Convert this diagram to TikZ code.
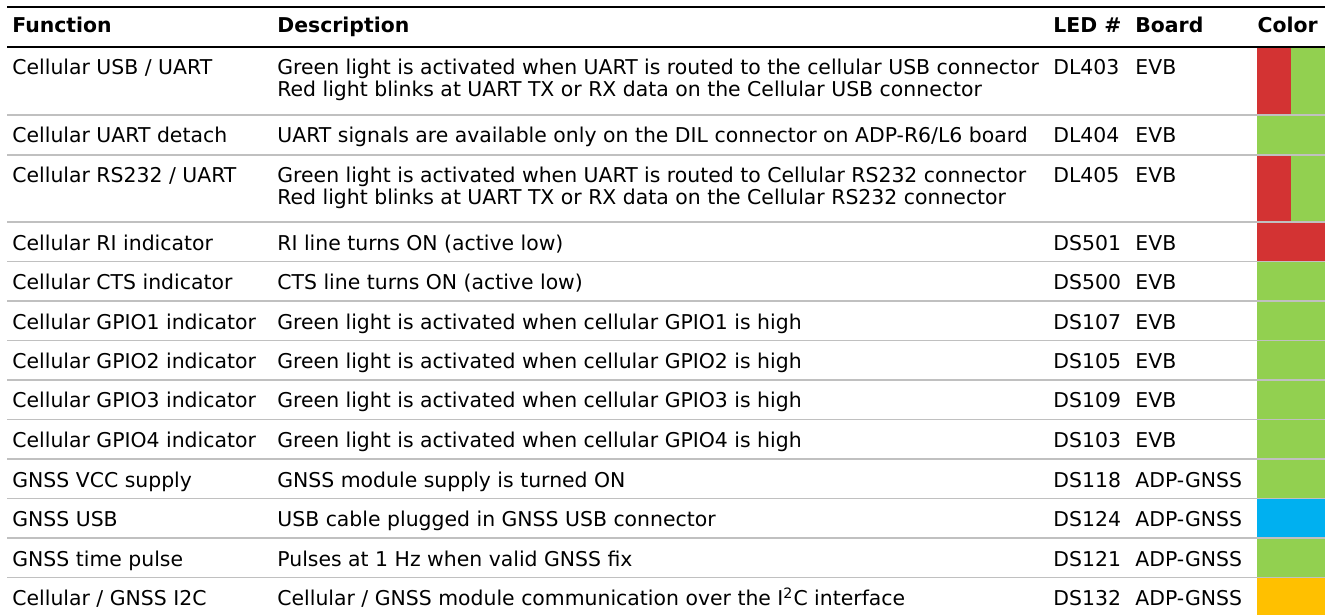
\documentclass[tikz,border=0pt]{standalone}
\usepackage{fontspec}
\setmainfont{DejaVu Sans}
\definecolor{ledred}{RGB}{211,51,51}
\definecolor{ledgreen}{RGB}{146,208,80}
\definecolor{ledblue}{RGB}{0,176,240}
\definecolor{ledamber}{RGB}{255,192,0}
\definecolor{rulegray}{RGB}{192,192,192}
\tikzset{
  cell/.style={anchor=base west,inner sep=0pt,font=\fontsize{10.2}{12}\selectfont},
  head/.style={cell,font=\fontsize{10.2}{12}\selectfont\bfseries},
  blackrule/.style={line width=1pt},
  rowrule/.style={rulegray,line width=0.8pt},
}
\begin{document}
\begin{tikzpicture}[x=0.5pt,y=-0.5pt]
\useasboundingbox (0,0) rectangle (1330,615);

% colour column
\fill[ledred]   (1257,47) rectangle (1291,115);
\fill[ledgreen] (1291,47) rectangle (1325,115);
\fill[ledgreen] (1257,115) rectangle (1325,155);
\fill[ledred]   (1257,155) rectangle (1291,222);
\fill[ledgreen] (1291,155) rectangle (1325,222);
\fill[ledred]   (1257,222) rectangle (1325,261.5);
\fill[ledgreen] (1257,261.5) rectangle (1325,498.5);
\fill[ledblue]  (1257,498.5) rectangle (1325,538);
\fill[ledgreen] (1257,538) rectangle (1325,577.5);
\fill[ledamber] (1257,577.5) rectangle (1325,615);

% rules
\draw[blackrule] (7,7) -- (1325,7);
\draw[blackrule] (7,47) -- (1325,47);
\foreach \y in {115,155,222,261.5,301,340.5,380,419.5,459,498.5,538,577.5}
  \draw[rowrule] (7,\y) -- (1325,\y);

% header
\node[head] (h-fn) at (12,33) {Function};
\node[head] (h-desc) at (277,33) {Description};
\node[head] (h-led) at (1053,33) {LED \#};
\node[head] (h-brd) at (1135,33) {Board};
\node[head,anchor=base east] (h-col) at (1318,33) {Color};

% rows
\node[cell] (fn-1) at (12,75) {Cellular USB / UART};
\node[cell] (desc-1) at (277,75) {Green light is activated when UART is routed to the cellular USB connector};
\node[cell] (desc-1b) at (277,97) {Red light blinks at UART TX or RX data on the Cellular USB connector};
\node[cell] (led-1) at (1053,75) {DL403};
\node[cell] (brd-1) at (1135,75) {EVB};

\node[cell] (fn-2) at (12,143) {Cellular UART detach};
\node[cell] (desc-2) at (277,143) {UART signals are available only on the DIL connector on ADP-R6/L6 board};
\node[cell] (led-2) at (1053,143) {DL404};
\node[cell] (brd-2) at (1135,143) {EVB};

\node[cell] (fn-3) at (12,183) {Cellular RS232 / UART};
\node[cell] (desc-3) at (277,183) {Green light is activated when UART is routed to Cellular RS232 connector};
\node[cell] (desc-3b) at (277,205) {Red light blinks at UART TX or RX data on the Cellular RS232 connector};
\node[cell] (led-3) at (1053,183) {DL405};
\node[cell] (brd-3) at (1135,183) {EVB};

\node[cell] (fn-4) at (12,250) {Cellular RI indicator};
\node[cell] (desc-4) at (277,250) {RI line turns ON (active low)};
\node[cell] (led-4) at (1053,250) {DS501};
\node[cell] (brd-4) at (1135,250) {EVB};

\node[cell] (fn-5) at (12,289.5) {Cellular CTS indicator};
\node[cell] (desc-5) at (277,289.5) {CTS line turns ON (active low)};
\node[cell] (led-5) at (1053,289.5) {DS500};
\node[cell] (brd-5) at (1135,289.5) {EVB};

\node[cell] (fn-6) at (12,329) {Cellular GPIO1 indicator};
\node[cell] (desc-6) at (277,329) {Green light is activated when cellular GPIO1 is high};
\node[cell] (led-6) at (1053,329) {DS107};
\node[cell] (brd-6) at (1135,329) {EVB};

\node[cell] (fn-7) at (12,368.5) {Cellular GPIO2 indicator};
\node[cell] (desc-7) at (277,368.5) {Green light is activated when cellular GPIO2 is high};
\node[cell] (led-7) at (1053,368.5) {DS105};
\node[cell] (brd-7) at (1135,368.5) {EVB};

\node[cell] (fn-8) at (12,408) {Cellular GPIO3 indicator};
\node[cell] (desc-8) at (277,408) {Green light is activated when cellular GPIO3 is high};
\node[cell] (led-8) at (1053,408) {DS109};
\node[cell] (brd-8) at (1135,408) {EVB};

\node[cell] (fn-9) at (12,447.5) {Cellular GPIO4 indicator};
\node[cell] (desc-9) at (277,447.5) {Green light is activated when cellular GPIO4 is high};
\node[cell] (led-9) at (1053,447.5) {DS103};
\node[cell] (brd-9) at (1135,447.5) {EVB};

\node[cell] (fn-10) at (12,487) {GNSS VCC supply};
\node[cell] (desc-10) at (277,487) {GNSS module supply is turned ON};
\node[cell] (led-10) at (1053,487) {DS118};
\node[cell] (brd-10) at (1135,487) {ADP-GNSS};

\node[cell] (fn-11) at (12,526.5) {GNSS USB};
\node[cell] (desc-11) at (277,526.5) {USB cable plugged in GNSS USB connector};
\node[cell] (led-11) at (1053,526.5) {DS124};
\node[cell] (brd-11) at (1135,526.5) {ADP-GNSS};

\node[cell] (fn-12) at (12,566) {GNSS time pulse};
\node[cell] (desc-12) at (277,566) {Pulses at 1 Hz when valid GNSS fix};
\node[cell] (led-12) at (1053,566) {DS121};
\node[cell] (brd-12) at (1135,566) {ADP-GNSS};

\node[cell] (fn-13) at (12,605.5) {Cellular / GNSS I2C};
\node[cell] (desc-13) at (277,605.5) {Cellular / GNSS module communication over the I\textsuperscript{2}C interface};
\node[cell] (led-13) at (1053,605.5) {DS132};
\node[cell] (brd-13) at (1135,605.5) {ADP-GNSS};

\end{tikzpicture}
\end{document}
